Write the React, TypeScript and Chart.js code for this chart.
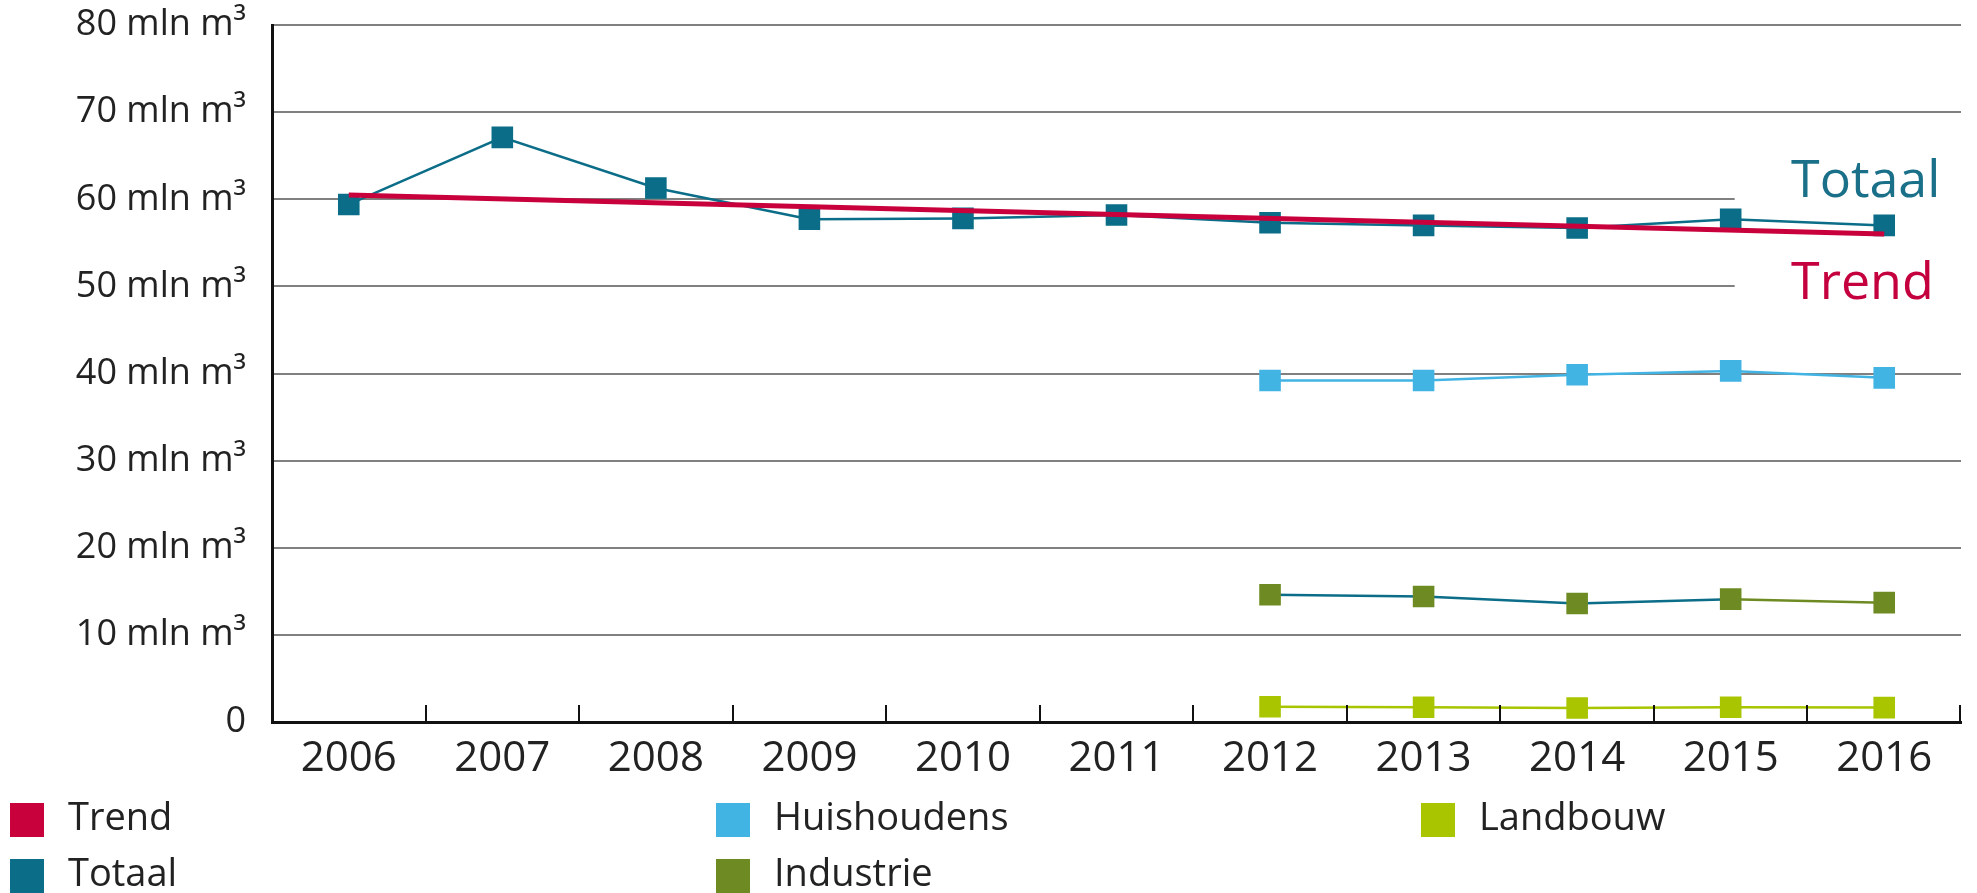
import React, { useEffect, useRef } from "react";
import { Chart, registerables } from "chart.js";

Chart.register(...registerables);

const years = ["2006", "2007", "2008", "2009", "2010", "2011", "2012", "2013", "2014", "2015", "2016"];
const trend = [60.5, null, null, null, null, null, null, null, null, null, 56.0];
const totaal = [59.4, 67.1, 61.3, 57.7, 57.8, 58.2, 57.3, 57.0, 56.7, 57.7, 57.0];
const huishoudens = [null, null, null, null, null, null, 39.2, 39.2, 39.85, 40.3, 39.5];
const industrie = [null, null, null, null, null, null, 14.6, 14.4, 13.6, 14.1, 13.7];
const landbouw = [null, null, null, null, null, null, 1.75, 1.7, 1.6, 1.7, 1.65];

const legendNames = ["Trend", "Totaal", "Huishoudens", "Industrie", "Landbouw"];
const COLORS = {
  trend: "#C8003C",
  totaal: "#0B6D88",
  huis: "#42B4E4",
  industrie: "#6E8B23",
  landbouw: "#A9C500",
};
const legendColors = [COLORS.trend, COLORS.totaal, COLORS.huis, COLORS.industrie, COLORS.landbouw];

const FONT = "'Open Sans', 'DejaVu Sans', sans-serif";

const boxPlugin = {
  id: "labelBox",
  beforeDatasetsDraw(chart: any) {
    const { ctx, chartArea, scales } = chart;
    const x0 = scales.x.getPixelForValue(9) + 4;
    const yTop = scales.y.getPixelForValue(67);
    const yBot = scales.y.getPixelForValue(45);
    ctx.save();
    ctx.fillStyle = "#ffffff";
    ctx.fillRect(x0, yTop, chartArea.right + 10 - x0, yBot - yTop);
    ctx.font = `52px ${FONT}`;
    ctx.textAlign = "left";
    ctx.textBaseline = "alphabetic";
    ctx.fillStyle = "#1A7088";
    ctx.fillText("Totaal", chartArea.right - 170, scales.y.getPixelForValue(60.3));
    ctx.fillStyle = "#C4003E";
    ctx.fillText("Trend", chartArea.right - 170, scales.y.getPixelForValue(48.5));
    ctx.restore();
  },
};

const tickPlugin = {
  id: "upTicks",
  afterDraw(chart: any) {
    const { ctx, chartArea } = chart;
    const n = years.length;
    const w = (chartArea.right - chartArea.left) / n;
    ctx.save();
    ctx.strokeStyle = "#111";
    ctx.lineWidth = 2;
    for (let k = 1; k <= n; k++) {
      const x = Math.round(chartArea.left + k * w) - (k === n ? 1 : 0);
      ctx.beginPath();
      ctx.moveTo(x, chartArea.bottom - 17);
      ctx.lineTo(x, chartArea.bottom);
      ctx.stroke();
    }
    ctx.restore();
  },
};

const legendPlugin = {
  id: "customLegend",
  afterDraw(chart: any) {
    const { ctx } = chart;
    const cols = [10, 716, 1421];
    const rows = [803, 859];
    ctx.save();
    ctx.font = `38px ${FONT}`;
    ctx.textBaseline = "alphabetic";
    ctx.textAlign = "left";
    legendNames.forEach((name, i) => {
      const c = Math.floor(i / 2);
      const r = i % 2;
      const x = cols[c];
      const y = rows[r];
      ctx.fillStyle = legendColors[i];
      ctx.fillRect(x, y, 34, 34);
      ctx.fillStyle = "#222";
      ctx.fillText(name, x + 58, y + 27);
    });
    ctx.restore();
  },
};

export default function App() {
  const ref = useRef<HTMLCanvasElement>(null);
  useEffect(() => {
    if (!ref.current) return;
    const ptBase = { pointStyle: "rect", pointRadius: 13.5, pointHoverRadius: 13.5, borderWidth: 2.5 };
    const chart = new Chart(ref.current, {
      type: "line",
      data: {
        labels: years,
        datasets: [
          {
            label: "Trend",
            data: trend,
            borderColor: COLORS.trend,
            backgroundColor: COLORS.trend,
            borderWidth: 5,
            pointRadius: 0,
            spanGaps: true,
          },
          {
            label: "Totaal",
            data: totaal,
            borderColor: COLORS.totaal,
            backgroundColor: COLORS.totaal,
            ...ptBase,
          },
          {
            label: "Huishoudens",
            data: huishoudens,
            borderColor: COLORS.huis,
            backgroundColor: COLORS.huis,
            ...ptBase,
          },
          {
            label: "Industrie",
            data: industrie,
            borderColor: COLORS.industrie,
            backgroundColor: COLORS.industrie,
            segment: {
              borderColor: (c: any) => (c.p0DataIndex < 9 ? COLORS.totaal : COLORS.industrie),
            },
            ...ptBase,
          },
          {
            label: "Landbouw",
            data: landbouw,
            borderColor: COLORS.landbouw,
            backgroundColor: COLORS.landbouw,
            ...ptBase,
          },
        ],
      } as any,
      options: {
        responsive: true,
        maintainAspectRatio: false,
        animation: false,
        layout: { padding: { top: 25, right: 7, left: 0, bottom: 0 } },
        elements: { point: { borderWidth: 0 }, line: { tension: 0 } },
        plugins: { legend: { display: false }, tooltip: { enabled: false } },
        scales: {
          x: {
            offset: true,
            grid: { display: false },
            border: { display: true, color: "#111", width: 3 },
            ticks: { font: { family: FONT, size: 42 }, color: "#222", padding: 4, maxRotation: 0 },
            afterFit: (s: any) => {
              s.height = 171;
              s.paddingLeft = 0;
              s.paddingRight = 0;
            },
          },
          y: {
            min: 0,
            max: 80,
            grid: { color: "#808080", lineWidth: 2, drawTicks: false },
            border: { display: true, color: "#111", width: 3 },
            ticks: {
              stepSize: 10,
              padding: 26,
              color: "#222",
              font: { family: FONT, size: 36 },
              callback: (v: any) => (v === 0 ? "0" : `${v} mln m³`),
            },
            afterFit: (s: any) => {
              s.width = 272;
              s.paddingTop = 0;
              s.paddingBottom = 0;
            },
          },
        },
      } as any,
      plugins: [boxPlugin, tickPlugin, legendPlugin],
    });
    return () => chart.destroy();
  }, []);
  return (
    <div style={{ position: "fixed", left: 0, top: 0, width: 1977, height: 893, background: "#fff" }}>
      <canvas ref={ref} />
    </div>
  );
}
